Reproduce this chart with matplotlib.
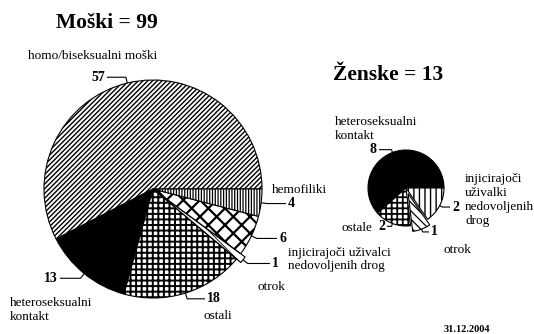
import matplotlib.pyplot as plt
import numpy as np

W, H = 534, 334

plt.rcParams['font.family'] = ['Liberation Serif', 'DejaVu Serif']
plt.rcParams['hatch.color'] = 'black'

# Moški = 99
m_labels = ["homo/biseksualni moški", "heteroseksualni\nkontakt", "ostali", "otrok",
            "injicirajoči uživalci\nnedovoljenih drog", "hemofiliki"]
m_values = [57, 13, 18, 1, 6, 4]

# Ženske = 13
z_labels = ["heteroseksualni\nkontakt", "ostale", "otrok",
            "injicirajoči\nuživalki\nnedovoljenih\ndrog"]
z_values = [8, 2, 1, 2]

fig = plt.figure(figsize=(W / 100, H / 100), dpi=100)
ax = fig.add_axes([0, 0, 1, 1])


def py(y):
    # pixel row (from top) -> data y
    return H - y


def draw_pie(values, center, radius, colors, hatches, hlw, explode):
    wedges, _ = ax.pie(values, center=center, radius=radius, startangle=0,
                       colors=colors, explode=explode, frame=False,
                       wedgeprops=dict(edgecolor='black', linewidth=0.8))
    for w, h, lw in zip(wedges, hatches, hlw):
        if h:
            w.set_hatch(h)
            if hasattr(w, 'set_hatch_linewidth'):
                w.set_hatch_linewidth(lw)
    return wedges


def leader(w, value, nx, ha, out):
    ang = np.deg2rad((w.theta1 + w.theta2) / 2)
    cx, cy = w.center
    ex, ey = cx + w.r * np.cos(ang), cy + w.r * np.sin(ang)
    bx, by = ex + out * np.cos(ang), ey + out * np.sin(ang)
    end = nx + 2 if ha == 'right' else nx - 2
    ax.plot([ex, bx, end], [ey, by, by], color='black', lw=0.8, solid_capstyle='butt')
    ax.text(nx, by, str(value), ha=ha, va='center', fontsize=10, fontweight='bold')


mw = draw_pie(m_values, (153, py(189)), 109,
              ['white', 'black', 'white', 'white', 'white', 'white'],
              ['///////', '', '+++', '\\\\\\', 'xx', '||||||'],
              [1.0, 1, 1.4, 0.6, 1.6, 0.9],
              [0, 0, 0, 5.5, 0, 0])

zw = draw_pie(z_values, (406, py(188)), 38,
              ['black', 'white', 'white', 'white'],
              ['', '+++', '\\\\\\\\', '|||'],
              [1, 1.3, 0.9, 1.0],
              [0, 0, 6, 0])

# number labels: x position, alignment
m_num = [(105, 'right'), (58, 'right'), (207, 'left'), (272, 'left'), (279, 'left'), (288, 'left')]
z_num = [(377, 'right'), (385, 'right'), (431, 'left'), (452, 'left')]

for w, v, (nx, ha) in zip(mw, m_values, m_num):
    leader(w, v, nx, ha, 6)
for w, v, (nx, ha) in zip(zw, z_values, z_num):
    leader(w, v, nx, ha, 3)

# category names
m_name = [(28, 56, 'left'), (10, 310, 'left'), (203, 316, 'left'), (257, 287, 'left'),
          (288, 259.5, 'left'), (272, 190, 'left')]
z_name = [(335, 129, 'left'), (372, 228, 'right'), (443, 250, 'left'), (465, 200, 'left')]

for lab, (x, y, ha) in zip(m_labels, m_name):
    ax.text(x, py(y), lab, ha=ha, va='center', fontsize=9.5, linespacing=1.2)
for lab, (x, y, ha) in zip(z_labels, z_name):
    ax.text(x, py(y), lab, ha=ha, va='center', fontsize=9.5, linespacing=1.2)

ax.text(107, py(23), "Moški = %d" % sum(m_values), ha='center', va='center',
        fontsize=15.5, fontweight='bold')
ax.text(388, py(75), "Ženske = %d" % sum(z_values), ha='center', va='center',
        fontsize=15.5, fontweight='bold')
ax.text(467, py(329), "31.12.2004", ha='center', va='center', fontsize=7.5, fontweight='bold')

ax.set_xlim(0, W)
ax.set_ylim(0, H)
ax.set_aspect('auto')
ax.axis('off')

fig.savefig('out.png', dpi=100)
